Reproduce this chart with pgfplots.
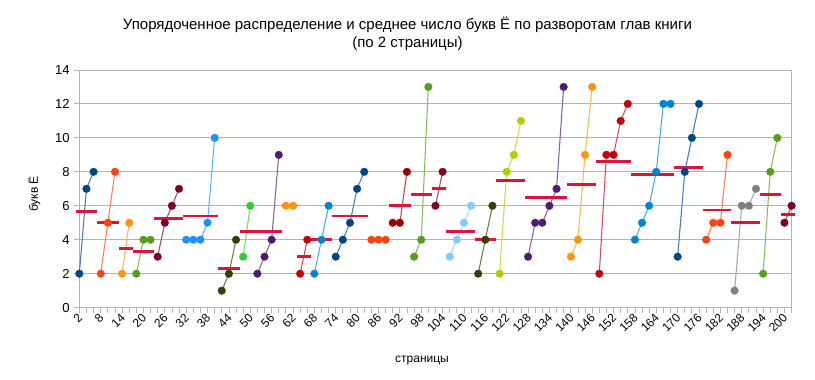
\documentclass[border=0pt]{standalone}
\usepackage{fontspec}
\setmainfont{Liberation Sans}
\usepackage{pgfplots}
\pgfplotsset{compat=1.18}
\definecolor{c1}{HTML}{004586}
\definecolor{c2}{HTML}{FF420E}
\definecolor{c3}{HTML}{FF950E}
\definecolor{c4}{HTML}{579D1C}
\definecolor{c5}{HTML}{7E0021}
\definecolor{c6}{HTML}{1E90FF}
\definecolor{c7}{HTML}{314004}
\definecolor{c8}{HTML}{33CC33}
\definecolor{c9}{HTML}{4B1F6F}
\definecolor{c10}{HTML}{FF950E}
\definecolor{c11}{HTML}{C5000B}
\definecolor{c12}{HTML}{0084D1}
\definecolor{c15}{HTML}{990000}
\definecolor{c18}{HTML}{83CAFF}
\definecolor{c20}{HTML}{AECF00}
\definecolor{c27}{HTML}{808080}
\definecolor{meanc}{HTML}{DC143C}
\definecolor{gridc}{HTML}{B3B3B3}
\pgfplotsset{
  chap/.style={color=#1!70!white, line width=0.8pt, mark=*, mark size=2.9pt,
    mark options={fill=#1, draw=#1, line width=0.2pt}}
}
\begin{document}
\begin{tikzpicture}
\useasboundingbox (0,0) rectangle (611.25pt,284.25pt);
\begin{axis}[
  at={(59.5pt,53.5pt)}, anchor=south west,
  scale only axis, width=534.2pt, height=178.3pt,
  xmin=2, xmax=202, ymin=0, ymax=14,
  clip=false,
  xtick={2,8,...,200},
  minor xtick={2,4,...,202},
  ytick={0,2,...,14},
  ymajorgrids, grid style={gridc, line width=0.6pt},
  axis line style={gridc, line width=0.6pt},
  tick style={gridc, line width=0.6pt},
  major tick length=3.75pt, minor tick length=3.75pt,
  tick align=outside,
  xtick pos=bottom, ytick pos=left,
  /pgf/number format/assume math mode=true,
  xticklabel style={rotate=45, anchor=east, font=\fontsize{9}{10}\selectfont, inner sep=1pt, yshift=-2pt},
  yticklabel style={font=\fontsize{9.8}{11}\selectfont},
  every axis plot/.append style={line join=round},
]
% chapters
\addplot[chap=c1] coordinates {(2,2) (4,7) (6,8)};
\addplot[chap=c2] coordinates {(8,2) (10,5) (12,8)};
\addplot[chap=c3] coordinates {(14,2) (16,5)};
\addplot[chap=c4] coordinates {(18,2) (20,4) (22,4)};
\addplot[chap=c5] coordinates {(24,3) (26,5) (28,6) (30,7)};
\addplot[chap=c6] coordinates {(32,4) (34,4) (36,4) (38,5) (40,10)};
\addplot[chap=c7] coordinates {(42,1) (44,2) (46,4)};
\addplot[chap=c8] coordinates {(48,3) (50,6)};
\addplot[chap=c9] coordinates {(52,2) (54,3) (56,4) (58,9)};
\addplot[chap=c10] coordinates {(60,6) (62,6)};
\addplot[chap=c11] coordinates {(64,2) (66,4)};
\addplot[chap=c12] coordinates {(68,2) (70,4) (72,6)};
\addplot[chap=c1] coordinates {(74,3) (76,4) (78,5) (80,7) (82,8)};
\addplot[chap=c2] coordinates {(84,4) (86,4) (88,4)};
\addplot[chap=c15] coordinates {(90,5) (92,5) (94,8)};
\addplot[chap=c4] coordinates {(96,3) (98,4) (100,13)};
\addplot[chap=c5] coordinates {(102,6) (104,8)};
\addplot[chap=c18] coordinates {(106,3) (108,4) (110,5) (112,6)};
\addplot[chap=c7] coordinates {(114,2) (116,4) (118,6)};
\addplot[chap=c20] coordinates {(120,2) (122,8) (124,9) (126,11)};
\addplot[chap=c9] coordinates {(128,3) (130,5) (132,5) (134,6) (136,7) (138,13)};
\addplot[chap=c10] coordinates {(140,3) (142,4) (144,9) (146,13)};
\addplot[chap=c11] coordinates {(148,2) (150,9) (152,9) (154,11) (156,12)};
\addplot[chap=c12] coordinates {(158,4) (160,5) (162,6) (164,8) (166,12) (168,12)};
\addplot[chap=c1] coordinates {(170,3) (172,8) (174,10) (176,12)};
\addplot[chap=c2] coordinates {(178,4) (180,5) (182,5) (184,9)};
\addplot[chap=c27] coordinates {(186,1) (188,6) (190,6) (192,7)};
\addplot[chap=c4] coordinates {(194,2) (196,8) (198,10)};
\addplot[chap=c5] coordinates {(200,5) (202,6)};
% means
\addplot[meanc, line width=2.2pt, unbounded coords=jump] coordinates {
(1,5.667) (7,5.667) (nan,nan)
(7,5) (13,5) (nan,nan)
(13,3.5) (17,3.5) (nan,nan)
(17,3.333) (23,3.333) (nan,nan)
(23,5.25) (31,5.25) (nan,nan)
(31,5.4) (41,5.4) (nan,nan)
(41,2.333) (47,2.333) (nan,nan)
(47,4.5) (51,4.5) (nan,nan)
(51,4.5) (59,4.5) (nan,nan)
(59,6) (63,6) (nan,nan)
(63,3) (67,3) (nan,nan)
(67,4) (73,4) (nan,nan)
(73,5.4) (83,5.4) (nan,nan)
(83,4) (89,4) (nan,nan)
(89,6) (95,6) (nan,nan)
(95,6.667) (101,6.667) (nan,nan)
(101,7) (105,7) (nan,nan)
(105,4.5) (113,4.5) (nan,nan)
(113,4) (119,4) (nan,nan)
(119,7.5) (127,7.5) (nan,nan)
(127,6.5) (139,6.5) (nan,nan)
(139,7.25) (147,7.25) (nan,nan)
(147,8.6) (157,8.6) (nan,nan)
(157,7.833) (169,7.833) (nan,nan)
(169,8.25) (177,8.25) (nan,nan)
(177,5.75) (185,5.75) (nan,nan)
(185,5) (193,5) (nan,nan)
(193,6.667) (199,6.667) (nan,nan)
(199,5.5) (203,5.5)
};
\end{axis}
\node[font=\fontsize{11.25}{13}\selectfont, align=center] at (305.6pt,259pt) {Упорядоченное распределение и среднее число букв Ё по разворотам глав книги\\(по 2 страницы)};
\node[font=\fontsize{9}{10}\selectfont, rotate=90] at (25.5pt,138.75pt) {букв Ё};
\node[font=\fontsize{9}{10}\selectfont] at (316.5pt,13.5pt) {страницы};
\end{tikzpicture}
\end{document}
